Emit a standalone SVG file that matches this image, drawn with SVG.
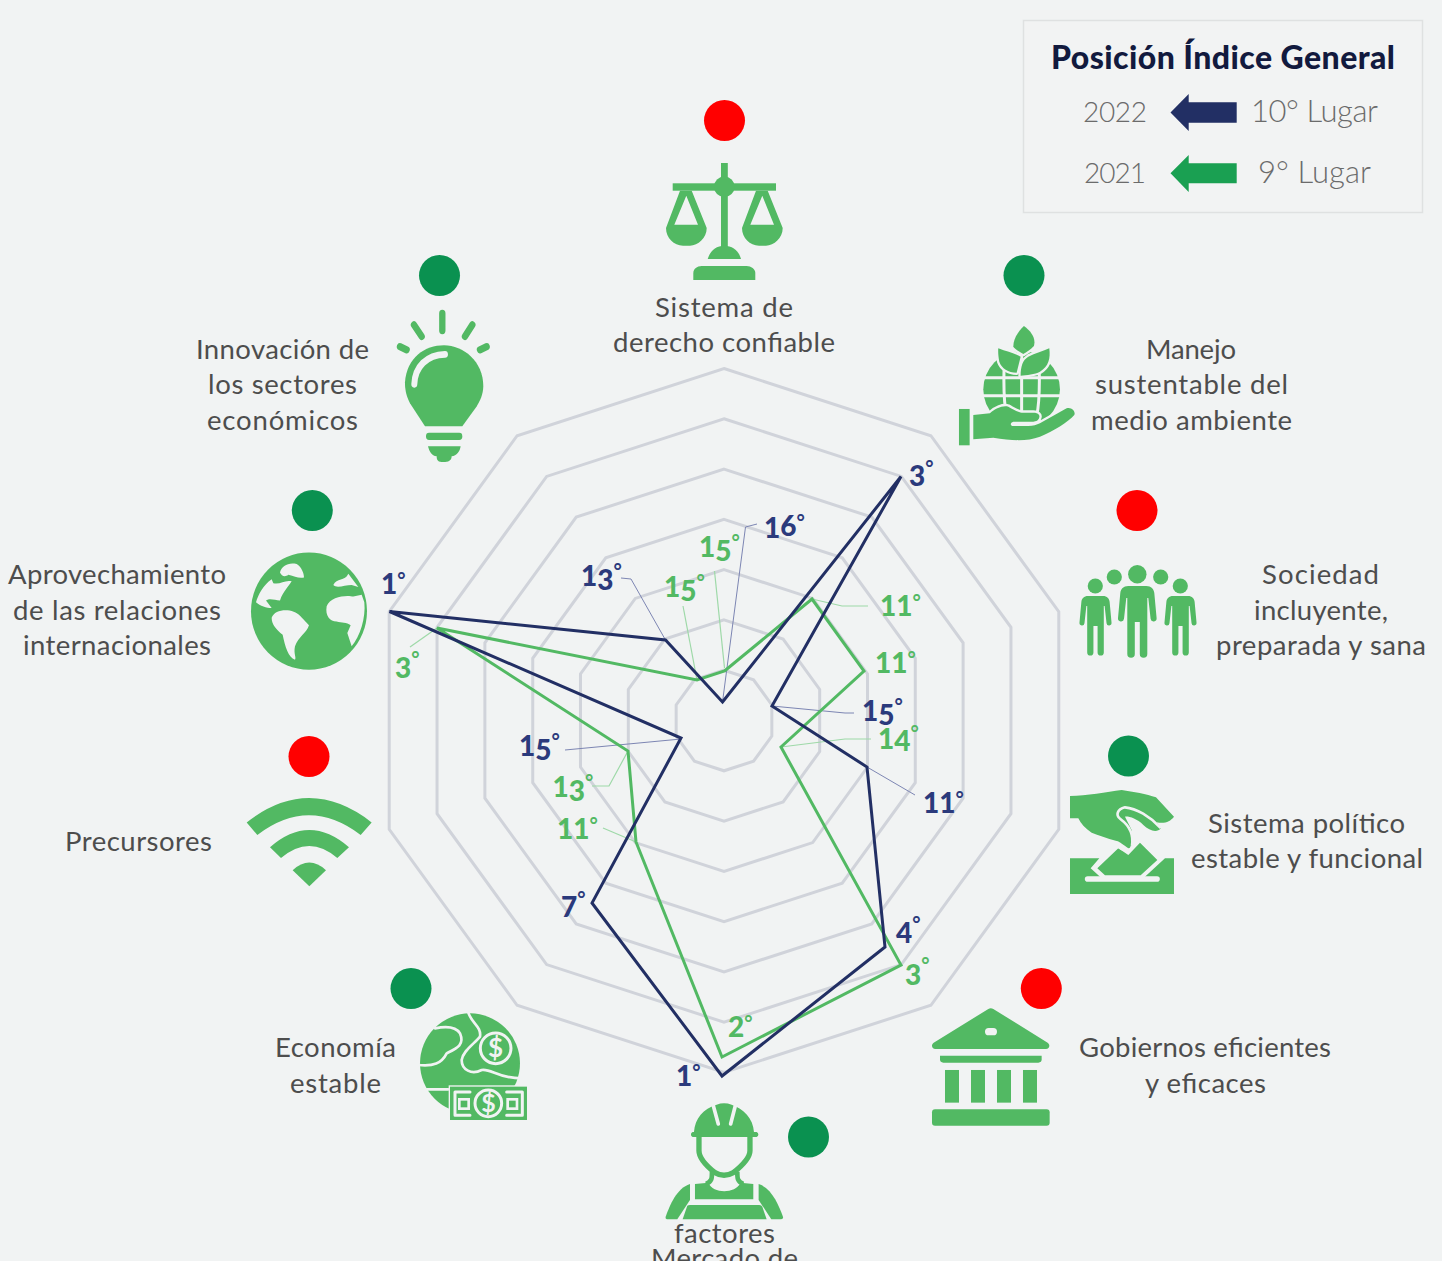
<svg xmlns="http://www.w3.org/2000/svg" xmlns:xlink="http://www.w3.org/1999/xlink" width="1442" height="1261" viewBox="0 0 1442 1261">
<style>
text{font-family:"Lato","Liberation Sans",sans-serif}
.lb{font-size:27.5px;fill:#4d4d4d}
.n{font-size:28px;font-weight:900;fill:#2b3a7c}
.g{font-size:28px;font-weight:900;fill:#52b963}
.d{font-size:20px;font-weight:700}
.lg{font-size:28px;font-weight:300;fill:#6b6b6b}
.lu{font-size:31px;font-weight:300;fill:#6b6b6b}
.ic{fill:#52b963}
.cut{fill:none;stroke:#f1f3f3;stroke-linecap:round;stroke-linejoin:round}
.halo{fill:#52b963;stroke:#f1f3f3;stroke-linejoin:round;paint-order:stroke}
.ok{fill:#0a9150}.bad{fill:#ff0000}
.ring{fill:none;stroke:#d0d3da;stroke-width:3;vector-effect:non-scaling-stroke}
.ln{fill:none;stroke:#222f64;stroke-width:3;stroke-linejoin:miter}
.lnG{fill:none;stroke:#52b963;stroke-width:3;stroke-linejoin:miter}
.ld{fill:none;stroke:#7d86b3;stroke-width:1}
.ldG{fill:none;stroke:#9ed9a8;stroke-width:1.2}
</style>
<defs>
<polygon id="dec" class="ring" points="0,-100 58.78,-80.9 95.11,-30.9 95.11,30.9 58.78,80.9 0,100 -58.78,80.9 -95.11,30.9 -95.11,-30.9 -58.78,-80.9"/>
<path id="person" d="M-9 0H9C14 0 16.5 3 17 7L19.3 32a3 3 0 0 1-6 .8L11 12 10 12V68a3.7 3.7 0 0 1-7.5 0V36H-2.5V68a3.7 3.7 0 0 1-7.5 0V12L-11 12-13.3 32.8a3 3 0 0 1-6-.8L-17 7C-16.5 3-14 0-9 0Z"/>
</defs>
<rect width="1442" height="1261" fill="#f1f3f3"/>

<g id="rings" transform="translate(724 720.5)">
<use xlink:href="#dec" href="#dec" transform="scale(3.52)"/>
<use xlink:href="#dec" href="#dec" transform="scale(3.017)"/>
<use xlink:href="#dec" href="#dec" transform="scale(2.514)"/>
<use xlink:href="#dec" href="#dec" transform="scale(2.011)"/>
<use xlink:href="#dec" href="#dec" transform="scale(1.509)"/>
<use xlink:href="#dec" href="#dec" transform="scale(1.006)"/>
<use xlink:href="#dec" href="#dec" transform="scale(.503)"/>
</g>

<g id="connectors">
<polyline class="ldG" points="724.5,668 714.5,571"/>
<polyline class="ldG" points="697,680 683,606"/>
<polyline class="ldG" points="812,599 842,606 868,606"/>
<polyline class="ldG" points="781,747 845,739 871,739"/>
<polyline class="ldG" points="628,751 609,786 592,786"/>
<polyline class="ldG" points="636,842 603,828"/>
<polyline class="ldG" points="437,628 410,647"/>
<polyline class="ld" points="722.5,702 745.5,527 757,524"/>
<polyline class="ld" points="665.5,640 631,579 621,578"/>
<polyline class="ld" points="772,706 845,713 854,713"/>
<polyline class="ld" points="867,767 915,795"/>
<polyline class="ld" points="681,739 565,750"/>
<polygon class="lnG" points="724.5,671 812,599 864,671 781,747 901,965 722,1057 636,842 628,751 437,628 697,680"/>
<polygon class="ln" points="722.5,702 901,476.5 772,706 867,767 885,947 722,1076 592,903 681,738 389.5,611.5 665.5,640"/>
</g>

<g id="scores">
<text class="n" x="764" y="537.5">1<tspan dy="-2">6</tspan><tspan class="d" dy="-6.500">°</tspan></text>
<text class="g" x="699" y="556.5">1<tspan dy="4">5</tspan><tspan class="d" dy="-12">°</tspan></text>
<text class="g" x="664" y="597">1<tspan dy="4">5</tspan><tspan class="d" dy="-12">°</tspan></text>
<text class="n" x="581" y="585.5">1<tspan dy="4">3</tspan><tspan class="d" dy="-12">°</tspan></text>
<text class="n" x="381" y="594">1<tspan class="d" dy="-7">°</tspan></text>
<text class="g" x="395" y="678">3<tspan class="d" dy="-12">°</tspan></text>
<text class="n" x="909" y="486">3<tspan class="d" dy="-11">°</tspan></text>
<text class="g" x="880" y="616">11<tspan class="d" dy="-7">°</tspan></text>
<text class="g" x="875" y="673">11<tspan class="d" dy="-7">°</tspan></text>
<text class="n" x="862" y="720.5">1<tspan dy="4">5</tspan><tspan class="d" dy="-12">°</tspan></text>
<text class="g" x="878" y="749">1<tspan dy="2">4</tspan><tspan class="d" dy="-11.500">°</tspan></text>
<text class="n" x="923" y="812.5">11<tspan class="d" dy="-7">°</tspan></text>
<text class="n" x="519" y="756">1<tspan dy="4">5</tspan><tspan class="d" dy="-12">°</tspan></text>
<text class="g" x="552.5" y="796.5">1<tspan dy="4">3</tspan><tspan class="d" dy="-12">°</tspan></text>
<text class="g" x="557" y="839">11<tspan class="d" dy="-7">°</tspan></text>
<text class="n" x="561" y="917">7<tspan class="d" dy="-11">°</tspan></text>
<text class="n" x="896" y="943">4<tspan class="d" dy="-12">°</tspan></text>
<text class="g" x="905" y="985">3<tspan class="d" dy="-13">°</tspan></text>
<text class="g" x="728" y="1037">2<tspan class="d" dy="-7">°</tspan></text>
<text class="n" x="676" y="1085.5">1<tspan class="d" dy="-7">°</tspan></text>
</g>

<g id="legend">
<rect x="1023.5" y="20.5" width="399" height="192" fill="#f2f3f3" stroke="#dfe1e1" stroke-width="1.5"/>
<text x="1051" y="69" font-size="32" font-weight="900" fill="#121a3e" textLength="344">Posición Índice General</text>
<text class="lg" x="1083" y="122" textLength="64">2022</text>
<polygon fill="#222f64" points="1170.5,112.5 1188.7,94 1188.7,102.3 1236.7,102.3 1236.7,122.7 1188.7,122.7 1188.7,131"/>
<text class="lu" x="1251" y="122" textLength="127">10° Lugar</text>
<text class="lg" x="1084" y="183" textLength="62">2021</text>
<polygon fill="#1aa052" points="1170.5,173.3 1188.7,155 1188.7,163.3 1236.7,163.3 1236.7,183.3 1188.7,183.3 1188.7,192"/>
<text class="lu" x="1258" y="183" textLength="113">9° Lugar</text>
</g>

<g id="node-derecho">
<circle class="bad" cx="724.5" cy="120.5" r="20.5"/>
<g class="ic">
<rect x="721" y="163" width="6.8" height="85"/>
<rect x="672.7" y="183.3" width="103.3" height="7.4"/>
<circle cx="724.3" cy="186.7" r="10.3"/>
<path d="M707.7 259C710 251 716 245.7 724.3 245.7S739 251 741 259Z"/>
<path d="M693.3 280V273C693.3 269 697 266 701.7 266H746.7C751 266 755.3 269 755.3 273V280Z"/>
<path fill-rule="evenodd" d="M666 228L680 190.7H691.7L706.7 228C706.7 238 698 245.7 690 245.7H683C674 245.7 666 238 666 228ZM686.3 195.7L674.3 224.7H698Z"/>
<path fill-rule="evenodd" d="M742 228L756 190.7H767.7L782.7 228C782.7 238 774 245.7 766 245.7H759C750 245.7 742 238 742 228ZM762.3 195.7L750.3 224.7H774Z"/>
</g>
<text class="lb" x="655" y="317" textLength="138">Sistema de</text>
<text class="lb" x="613" y="352" textLength="222">derecho confiable</text>
</g>

<g id="node-ambiente">
<circle class="ok" cx="1024" cy="275.5" r="20.5"/>
<g transform="translate(640 150) scale(.3333)">
<circle class="ic" cx="1145" cy="718" r="115"/>
<g class="cut" stroke-width="9">
<path d="M1020 683H1270M1020 737H1270"/>
<path d="M1145 590V790M1095 600C1090 680 1090 750 1100 800M1195 600C1200 680 1200 750 1190 800" stroke-linecap="butt"/>
</g>
<path class="halo" stroke-width="14" d="M1152 528C1175 545 1188 565 1182 588C1170 600 1160 606 1150 612C1135 604 1125 596 1120 590C1120 565 1135 545 1152 528Z"/>
<path class="halo" stroke-width="14" d="M1075 595C1100 605 1125 610 1142 620L1130 668C1105 668 1085 655 1078 635C1075 620 1074 605 1075 595Z"/>
<path class="halo" stroke-width="14" d="M1228 595C1232 625 1226 650 1200 665C1185 673 1160 675 1142 677C1142 650 1148 630 1165 620C1185 610 1210 603 1228 595Z"/>
<rect class="ic" x="957" y="777" width="32" height="109"/>
<path class="halo" stroke-width="14" d="M1000 795L1050 790C1065 775 1090 765 1105 770C1120 778 1135 788 1145 788H1180C1195 788 1200 795 1198 802C1196 812 1188 815 1180 815H1120C1110 818 1110 828 1120 828H1165C1180 828 1190 825 1200 820L1280 775C1295 770 1308 785 1303 795C1285 815 1240 845 1200 860C1160 875 1115 872 1060 863L1000 868Z"/>
</g>
<text class="lb" x="1146" y="359" textLength="90">Manejo</text>
<text class="lb" x="1095" y="394" textLength="193">sustentable del</text>
<text class="lb" x="1091" y="430" textLength="201">medio ambiente</text>
</g>

<g id="node-sociedad">
<circle class="bad" cx="1137" cy="510.5" r="20.5"/>
<g class="ic">
<circle cx="1137.3" cy="574.3" r="9.2"/>
<circle cx="1114.3" cy="577" r="7.6"/>
<circle cx="1160.7" cy="577" r="7.6"/>
<circle cx="1095.3" cy="586" r="7.6"/>
<circle cx="1180.3" cy="586" r="7.6"/>
<use href="#person" xlink:href="#person" transform="translate(1137.3 586)"/>
<use href="#person" xlink:href="#person" transform="translate(1095.5 596) scale(.83)"/>
<use href="#person" xlink:href="#person" transform="translate(1180.5 596) scale(.83)"/>
</g>
<text class="lb" x="1262" y="584" textLength="117">Sociedad</text>
<text class="lb" x="1254" y="620" textLength="134">incluyente,</text>
<text class="lb" x="1216" y="655" textLength="210">preparada y sana</text>
</g>

<g id="node-politico">
<circle class="ok" cx="1128.5" cy="756" r="20.5"/>
<g transform="translate(1060 550) scale(.3333)">
<path class="ic" d="M30 925H118L92 955 125 985H250L315 925H342V1032H30Z"/>
<path class="cut" stroke-width="17" d="M83 987H291"/>
<path class="ic" d="M175 895L205 915 240 878 292 930 242 976H135L112 955Z"/>
<path class="ic" d="M30 738C80 738 140 725 185 720C220 725 260 732 288 742L342 800C330 815 315 822 290 817L303 835C290 850 268 842 250 825C230 805 205 798 195 800L215 840 218 880C215 892 210 897 205 895C190 885 180 875 170 873C140 865 115 855 95 848C75 835 62 820 55 805H30Z"/>
<path class="cut" stroke-width="8" d="M300 832C270 800 230 775 195 772C172 778 165 795 182 808C205 825 222 850 216 888C212 905 195 905 175 890"/>
</g>
<text class="lb" x="1208" y="833" textLength="197">Sistema político</text>
<text class="lb" x="1191" y="868" textLength="232">estable y funcional</text>
</g>

<g id="node-gobiernos">
<circle class="bad" cx="1041.3" cy="988.5" r="20.5"/>
<g transform="translate(920 900) scale(.3333)">
<path class="ic" d="M205 327Q212 322 220 327L383 428C392 435 388 447 378 447H46C36 447 32 435 41 428Z"/>
<rect x="195" y="384" width="36" height="22" rx="11" fill="#f1f3f3"/>
<path class="ic" d="M60 467H365V478Q365 488 355 488H70Q60 488 60 478Z"/>
<rect class="ic" x="75" y="510" width="42" height="98"/>
<rect class="ic" x="153" y="510" width="42" height="98"/>
<rect class="ic" x="231" y="510" width="42" height="98"/>
<rect class="ic" x="309" y="510" width="42" height="98"/>
<rect class="ic" x="36" y="628" width="353" height="49" rx="9"/>
</g>
<text class="lb" x="1079" y="1057" textLength="252">Gobiernos eficientes</text>
<text class="lb" x="1145" y="1093" textLength="121">y eficaces</text>
</g>

<g id="node-mercado">
<circle class="ok" cx="808.5" cy="1137" r="20.5"/>
<g transform="translate(400 1000) scale(.3333)">
<path class="ic" d="M882 396C885 355 910 325 950 314Q972 305 995 314C1030 325 1060 355 1062 396H1070a8 8 0 0 1 0 15H878a8 8 0 0 1 0-15Z"/>
<path class="cut" stroke-width="11" d="M938 310L955 372M1008 310L992 372"/>
<path fill="none" stroke="#52b963" stroke-width="16" d="M897 410V452C897 472 920 498 945 518Q972 534 1000 518C1025 498 1050 472 1050 452V410"/>
<path fill="none" stroke="#52b963" stroke-width="14" d="M936 515C936 535 936 545 918 552M1012 515C1012 535 1012 545 1030 552"/>
<path class="ic" d="M870 552C830 565 810 615 797 650Q795 658 805 658H832L870 600Z"/>
<path class="ic" d="M1076 552C1116 565 1136 615 1149 650Q1151 658 1141 658H1114L1076 600Z"/>
<path class="ic" d="M885 552L925 548C940 582 1005 582 1022 548L1060 552V598H885Z"/>
<path class="ic" d="M862 617Q865 615 870 615H1078Q1085 615 1087 620L1100 658H848Z"/>
</g>
<text class="lb" x="674" y="1243" textLength="101">factores</text>
<text class="lb" x="651" y="1268" textLength="147">Mercado de</text>
</g>

<g id="node-economia">
<circle class="ok" cx="411" cy="988.5" r="20.5"/>
<g transform="translate(400 1000) scale(.3333)">
<circle class="ic" cx="210" cy="190" r="150"/>
<g class="cut" stroke-width="8">
<path d="M205 38C215 70 245 80 240 110C225 130 190 150 185 180C185 210 215 225 245 210C275 205 290 235 365 235"/>
<path d="M55 195C100 200 125 190 140 160C170 145 195 135 180 100C165 75 130 80 105 85"/>
<path d="M80 268H145"/>
</g>
<circle cx="287" cy="145" r="46" fill="#52b963" stroke="#f1f3f3" stroke-width="9"/>
<rect x="146" y="256" width="238" height="108" fill="#f1f3f3"/>
<rect class="ic" x="150" y="260" width="231" height="100"/>
<path class="cut" stroke-width="9" stroke-linecap="butt" stroke-linejoin="miter" d="M210 276H165V346H210M320 276H367V346H320"/>
<rect x="178" y="298" width="28" height="28" fill="none" stroke="#f1f3f3" stroke-width="8"/>
<rect x="323" y="298" width="28" height="28" fill="none" stroke="#f1f3f3" stroke-width="8"/>
<circle cx="265" cy="310" r="40" fill="#52b963" stroke="#f1f3f3" stroke-width="9"/>
</g>
<text x="495.500" y="1057" font-size="26" font-weight="700" fill="#f1f3f3" text-anchor="middle">$</text>
<text x="488.500" y="1112" font-size="25" font-weight="700" fill="#f1f3f3" text-anchor="middle">$</text>
<text class="lb" x="275" y="1057" textLength="121">Economía</text>
<text class="lb" x="290" y="1093" textLength="91">estable</text>
</g>

<g id="node-precursores">
<circle class="bad" cx="309" cy="756.5" r="20.5"/>
<g class="ic" transform="translate(230 300) scale(.3333 .3827)">
<path d="M50 1365Q237 1238 425 1365L392 1398Q237 1295 82 1398Z"/>
<path d="M120 1430Q238 1340 357 1430L322 1458Q238 1395 153 1458Z"/>
<path d="M188 1490Q238 1450 288 1490L238 1532Z"/>
</g>
<text class="lb" x="65" y="851" textLength="147">Precursores</text>
</g>

<g id="node-relaciones">
<circle class="ok" cx="312.300" cy="510.500" r="20.5"/>
<g transform="translate(230 300) scale(.3333 .3827)">
<ellipse class="ic" cx="237" cy="813" rx="174" ry="153"/>
<g fill="#f1f3f3">
<path d="M150 712C155 695 175 685 200 690C215 698 222 715 222 725C205 728 195 722 175 718C165 725 155 722 150 712Z"/>
<path d="M78 790C85 770 100 745 125 730L130 740C150 745 165 730 185 735C175 750 160 760 150 785C135 785 120 778 108 785L125 805C110 805 90 800 78 790Z"/>
<path d="M125 830C135 805 190 805 210 825L237 850C230 870 205 880 195 905C190 925 200 935 195 940C175 935 165 905 158 875C140 860 125 850 125 830Z"/>
<path d="M290 800C300 775 350 770 370 775L395 770L403 790C408 830 390 880 365 905L352 870 362 850C350 840 335 845 320 840C300 840 285 825 290 800Z"/>
<path d="M310 745C320 725 345 735 355 715L385 750 365 745C345 745 320 755 310 745Z"/>
</g>
</g>
<text class="lb" x="8" y="584" textLength="218">Aprovechamiento</text>
<text class="lb" x="13" y="620" textLength="208">de las relaciones</text>
<text class="lb" x="23" y="655" textLength="188">internacionales</text>
</g>

<g id="node-innovacion">
<circle class="ok" cx="439.500" cy="275.500" r="20.5"/>
<g transform="translate(230 300) scale(.3333 .3827)">
<path fill="none" stroke="#52b963" stroke-width="19" stroke-linecap="round" d="M637 35V80M552 65L575 95M510 122L530 130M727 65L705 95M770 122L750 130"/>
<path class="ic" d="M585 330L540 270C525 245 525 225 525 215C530 150 585 118 642 118C700 118 760 160 760 225C760 245 750 265 740 278L697 330Z"/>
<path class="cut" stroke-width="18" d="M553 220C555 175 590 143 645 142"/>
<rect class="ic" x="588" y="347" width="109" height="19" rx="9"/>
<path class="ic" d="M594 382H692C690 395 680 408 665 408C665 420 655 423 640 423C625 423 620 420 620 408C605 408 598 395 594 382Z"/>
</g>
<text class="lb" x="196" y="359" textLength="173">Innovación de</text>
<text class="lb" x="208" y="394" textLength="149">los sectores</text>
<text class="lb" x="207" y="430" textLength="151">económicos</text>
</g>
</svg>
